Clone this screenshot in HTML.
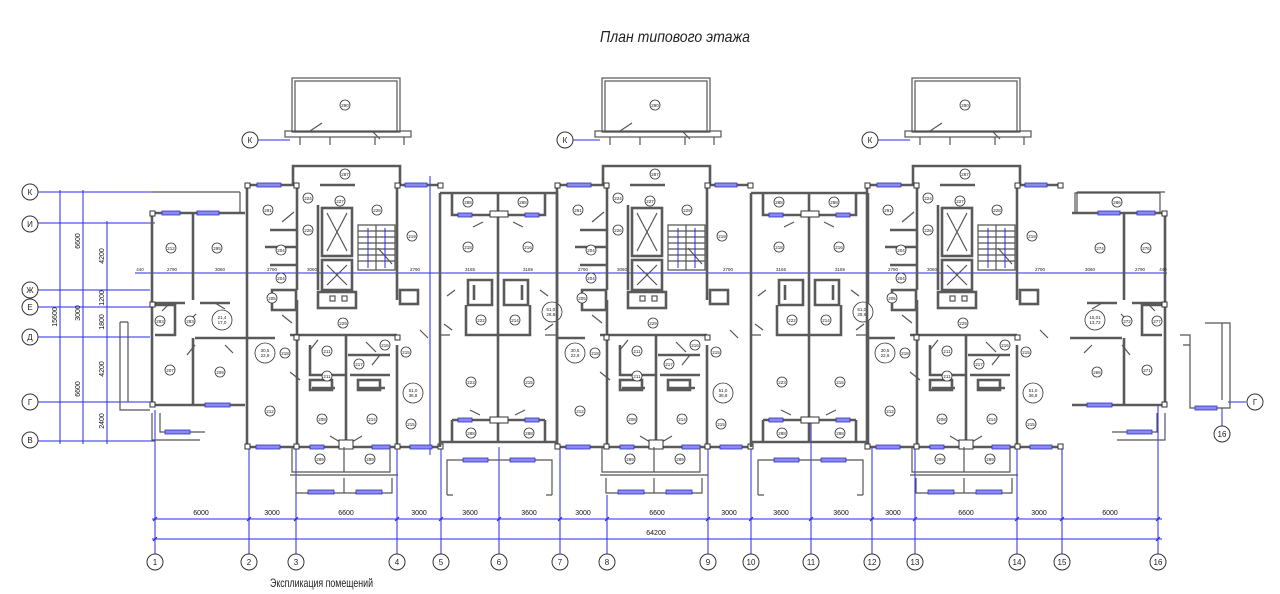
<!DOCTYPE html>
<html><head><meta charset="utf-8">
<style>
html,body{margin:0;padding:0;background:#fff;}
svg{display:block;font-family:"Liberation Sans",sans-serif;}
.w{fill:none;stroke:#5a5a5a;stroke-width:2.6;}
.t{fill:none;stroke:#555;stroke-width:1.2;}
.b{stroke:#2a2aee;stroke-width:1;fill:none;}
.win{fill:#8a8af0;stroke:#3030c0;stroke-width:.8;}
.c circle{fill:#fff;stroke:#333;stroke-width:.8;}
.c text{font-size:4.5px;text-anchor:middle;fill:#222;}
.dt{font-size:7px;fill:#111;text-anchor:middle;}
.ax circle{fill:#fff;stroke:#333;stroke-width:1;}
.ax text{font-size:8px;text-anchor:middle;fill:#222;}
.bd{font-size:4.5px;fill:#222;text-anchor:middle;}
.col{fill:#fff;stroke:#333;stroke-width:1;}
</style></head><body>
<svg width="1280" height="594" viewBox="0 0 1280 594" xmlns="http://www.w3.org/2000/svg">
<defs>
<g id="core">
  <rect x="292" y="78" width="108" height="54" class="t"/>
  <rect x="295" y="81" width="102" height="51" class="t"/>
  <rect x="285" y="131" width="126" height="6" class="t"/>
  <path d="M300 137v8M330 137v8M375 137v8M404 137v8" class="t"/>
  <path d="M310 131l12-8M372 131l8 8" class="t"/>
  <path d="M247 447V185H293V166H400V185H440" class="w"/>
  <path d="M247 447H440" class="w"/>
  <rect x="257" y="183" width="24" height="4" class="win"/>
  <rect x="405" y="183" width="22" height="4" class="win"/>
  <rect x="256" y="445" width="24" height="4" class="win"/>
  <rect x="310" y="445" width="14" height="4" class="win"/>
  <rect x="372" y="445" width="18" height="4" class="win"/>
  <rect x="410" y="445" width="22" height="4" class="win"/>
  <path d="M297 185V290M397 185V300M318 205V290M297 300V447M346 335V447M397 345V447" class="w"/>
  <path d="M290 335H397M247 338H275" class="w"/>
  <path d="M320 185H355M270 230H297M265 247H297M270 265H297" class="w"/>
  <rect x="322" y="208" width="30" height="48" class="w"/>
  <path d="M327 213l20 38M347 213l-20 38" class="t"/>
  <rect x="322" y="260" width="30" height="30" class="w"/>
  <path d="M327 265l20 20M347 265l-20 20" class="t"/>
  <path d="M358 225H395V270H358ZM376 225V270" class="t"/>
  <path d="M358 231H395M358 237H395M358 243H395M358 249H395M358 255H395M358 261H395M378 248l14 16" class="t" stroke-width=".7"/>
  <path d="M368 268V228M385 228V268" class="b"/>
  <rect x="318" y="292" width="38" height="16" class="w"/>
  <rect x="330" y="296" width="5" height="5" class="t"/>
  <rect x="342" y="296" width="5" height="5" class="t"/>
  <rect x="272" y="290" width="24" height="20" class="w"/>
  <rect x="400" y="290" width="18" height="14" class="w"/>
  <path d="M310 345V375H345M348 355H390M350 375H390M312 388H335M358 388H385" class="w"/>
  <rect x="310" y="380" width="22" height="10" class="w"/>
  <rect x="358" y="380" width="22" height="10" class="w"/>
  <path d="M282 222l12-10M292 323l-10-8M318 340l-8 10M366 342l10 10M380 355l-8 10M300 380l-10-8M420 330l8 8M410 350l-8 6M340 442l-10-6M352 442l10-6" class="t"/>
  <rect x="339" y="440" width="14" height="9" class="col"/>
  <path d="M292 447V472H390V447M344 447V472" class="t" stroke-width="2"/>
  <path d="M290 475H398M296 478V493H392V478M344 478V493" class="t"/>
  <rect x="308" y="490" width="26" height="4" class="win"/>
  <rect x="356" y="490" width="26" height="4" class="win"/>
  <rect x="245" y="183" width="5" height="5" class="col"/><rect x="294" y="183" width="5" height="5" class="col"/>
  <rect x="395" y="183" width="5" height="5" class="col"/><rect x="438" y="183" width="5" height="5" class="col"/>
  <rect x="294" y="335" width="5" height="5" class="col"/><rect x="395" y="335" width="5" height="5" class="col"/>
  <rect x="245" y="444" width="5" height="5" class="col"/><rect x="294" y="444" width="5" height="5" class="col"/>
  <rect x="395" y="444" width="5" height="5" class="col"/><rect x="438" y="444" width="5" height="5" class="col"/>
  <g class="c">
   <circle cx="345" cy="105" r="5"/><text x="345" y="107">290</text>
   <circle cx="345" cy="174" r="5"/><text x="345" y="176">287</text>
   <circle cx="268" cy="210" r="5"/><text x="268" y="212">291</text>
   <circle cx="308" cy="198" r="5"/><text x="308" y="200">224</text>
   <circle cx="340" cy="201" r="5"/><text x="340" y="203">227</text>
   <circle cx="377" cy="210" r="5"/><text x="377" y="212">228</text>
   <circle cx="308" cy="230" r="5"/><text x="308" y="232">226</text>
   <circle cx="412" cy="236" r="5"/><text x="412" y="238">219</text>
   <circle cx="281" cy="250" r="5"/><text x="281" y="252">204</text>
   <circle cx="281" cy="278" r="5"/><text x="281" y="280">204</text>
   <circle cx="272" cy="298" r="5"/><text x="272" y="300">205</text>
   <circle cx="343" cy="323" r="5"/><text x="343" y="325">229</text>
   <circle cx="285" cy="353" r="5"/><text x="285" y="355">218</text>
   <circle cx="327" cy="351" r="5"/><text x="327" y="353">211</text>
   <circle cx="327" cy="376" r="5"/><text x="327" y="378">211</text>
   <circle cx="359" cy="364" r="5"/><text x="359" y="366">217</text>
   <circle cx="385" cy="345" r="5"/><text x="385" y="347">216</text>
   <circle cx="406" cy="352" r="5"/><text x="406" y="354">215</text>
   <circle cx="270" cy="411" r="5"/><text x="270" y="413">212</text>
   <circle cx="322" cy="419" r="5"/><text x="322" y="421">208</text>
   <circle cx="372" cy="419" r="5"/><text x="372" y="421">214</text>
   <circle cx="411" cy="424" r="5"/><text x="411" y="426">215</text>
   <circle cx="320" cy="459" r="5"/><text x="320" y="461">289</text>
   <circle cx="370" cy="459" r="5"/><text x="370" y="461">289</text>
   <circle cx="265" cy="353" r="10"/><text x="265" y="352">30,5</text><text x="265" y="357">22,9</text>
   <circle cx="413" cy="393" r="10"/><text x="413" y="392">51,0</text><text x="413" y="397">36,8</text>
  </g>
</g>
<g id="mid">
  <path d="M440 193H557M440 193V447M557 193V447M440 442H557" class="w"/>
  <path d="M452 193V215H545V193M498 193V442M452 420H545M452 420V442M545 420V442" class="w"/>
  <rect x="458" y="213" width="14" height="4" class="win"/><rect x="525" y="213" width="14" height="4" class="win"/>
  <rect x="458" y="418" width="14" height="4" class="win"/><rect x="525" y="418" width="14" height="4" class="win"/>
  <rect x="490" y="211" width="18" height="6" class="col"/><rect x="490" y="417" width="18" height="6" class="col"/>
  <path d="M468 280H492V305H468ZM504 280H528V305H504ZM466 305V335H530V305M474 285V300M522 285V300" class="w"/>
  <path d="M440 335H450M545 335H557M483 222l-10 5M513 222l10 5M480 415l-10-5M515 415l10-5M452 330l-8-6M545 330l8-6M455 290l-8 6M540 290l8 6" class="t"/>
  <path d="M447 495V460H552V495" class="t" stroke-width="2"/>
  <path d="M447 495h6M546 495h6" class="t"/>
  <rect x="463" y="458" width="25" height="4" class="win"/><rect x="510" y="458" width="25" height="4" class="win"/>
  <g class="c">
   <circle cx="468" cy="202" r="5"/><text x="468" y="204">288</text>
   <circle cx="523" cy="202" r="5"/><text x="523" y="204">288</text>
   <circle cx="468" cy="247" r="5"/><text x="468" y="249">218</text>
   <circle cx="528" cy="247" r="5"/><text x="528" y="249">216</text>
   <circle cx="481" cy="320" r="5"/><text x="481" y="322">222</text>
   <circle cx="515" cy="320" r="5"/><text x="515" y="322">214</text>
   <circle cx="471" cy="382" r="5"/><text x="471" y="384">223</text>
   <circle cx="529" cy="382" r="5"/><text x="529" y="384">215</text>
   <circle cx="471" cy="433" r="5"/><text x="471" y="435">288</text>
   <circle cx="529" cy="433" r="5"/><text x="529" y="435">288</text>
   <circle cx="552" cy="312" r="10"/><text x="552" y="311">51,01</text><text x="552" y="316">28,84</text>
  </g>
</g>
<g id="wing">
  <path d="M245 213H152V405H245" class="w"/>
  <path d="M152 192H240M240 192V213" class="t"/>
  <rect x="162" y="211" width="18" height="4" class="win"/><rect x="197" y="211" width="22" height="4" class="win"/>
  <rect x="205" y="403" width="25" height="4" class="win"/>
  <path d="M193 213V300M152 303H185M200 303H230M193 338V405M195 338H247" class="w"/>
  <path d="M155 305H175V335H155" class="w"/>
  <path d="M152 413V440H200M160 413V432H205" class="t"/>
  <rect x="165" y="430" width="25" height="4" class="win"/>
  <path d="M170 303l-8 8M215 303l10 6M188 322l8-8M195 345l-8 10M225 345l8 8" class="t"/>
  <rect x="150" y="211" width="5" height="5" class="col"/><rect x="150" y="402" width="5" height="5" class="col"/>
  <rect x="150" y="302" width="5" height="5" class="col"/>
</g>
</defs>

<g class="b">
  <path d="M38 192H155M38 223H155M38 290H150M38 307H150M38 337H150M38 402H150M38 441H155"/>
  <path d="M258 140H290M573 140H600M878 140H910"/>
  <path d="M60 190V444M83 190V444M107 221V444"/>
  <path d="M56 192h30M56 441h55M80 290h30M80 337h30M104 223h6M104 307h6M104 402h6"/>
  <path d="M135 273H1167"/>
  <path d="M155 410V555M249 447V555M296 447V555M397 447V555M441 447V555M499 447V555M560 447V555M607 495V555M708 447V555M751 447V555M811 420V555M872 447V555M915 447V555M1017 447V555M1062 447V555M1158 405V555"/>
  <path d="M152 519H1162M152 539H1162"/>
  <path d="M430 176V455"/>
  <path d="M1222 408V426M1228 402H1246"/>
</g>
<g fill="#2020e0">
 <path d="M153 521l4-4M247 521l4-4M294 521l4-4M395 521l4-4M439 521l4-4M497 521l4-4M558 521l4-4M605 521l4-4M706 521l4-4M749 521l4-4M809 521l4-4M870 521l4-4M913 521l4-4M1015 521l4-4M1060 521l4-4M1156 521l4-4M153 541l4-4M1156 541l4-4" stroke="#2020e0"/>
</g>

<use href="#wing"/>
<use href="#core"/>
<use href="#mid"/>
<use href="#core" transform="translate(310,0)"/>
<use href="#mid" transform="translate(311,0)"/>
<use href="#core" transform="translate(620,0)"/>
<use href="#wing" transform="translate(1317,0) scale(-1,1)"/>
<path d="M1075 213V193H1160V213" class="t"/>

<g class="c">
 <circle cx="171" cy="248" r="5"/><text x="171" y="250">212</text>
 <circle cx="217" cy="248" r="5"/><text x="217" y="250">295</text>
 <circle cx="160" cy="321" r="5"/><text x="160" y="323">283</text>
 <circle cx="190" cy="321" r="5"/><text x="190" y="323">283</text>
 <circle cx="170" cy="370" r="5"/><text x="170" y="372">207</text>
 <circle cx="220" cy="372" r="5"/><text x="220" y="374">209</text>
 <circle cx="222" cy="320" r="10"/><text x="222" y="319">21,4</text><text x="222" y="324">17,0</text>
 <circle cx="1117" cy="202" r="5"/><text x="1117" y="204">286</text>
 <circle cx="1100" cy="248" r="5"/><text x="1100" y="250">274</text>
 <circle cx="1146" cy="248" r="5"/><text x="1146" y="250">276</text>
 <circle cx="1127" cy="321" r="5"/><text x="1127" y="323">272</text>
 <circle cx="1157" cy="321" r="5"/><text x="1157" y="323">277</text>
 <circle cx="1097" cy="372" r="5"/><text x="1097" y="374">266</text>
 <circle cx="1147" cy="370" r="5"/><text x="1147" y="372">271</text>
 <circle cx="1095" cy="320" r="10"/><text x="1095" y="319">15,01</text><text x="1095" y="324">13,72</text>
</g>

<path d="M120 322V410H150M120 322h8M128 322V402" class="t"/>
<path d="M1205 323H1230V408H1190V335H1180M1222 323V400M1190 345H1183" class="t"/>
<rect x="1195" y="406" width="22" height="4" class="win"/>

<g class="dt">
 <text x="201" y="515">6000</text><text x="272" y="515">3000</text><text x="346" y="515">6600</text>
 <text x="419" y="515">3000</text><text x="470" y="515">3600</text><text x="529" y="515">3600</text>
 <text x="583" y="515">3000</text><text x="657" y="515">6600</text><text x="729" y="515">3000</text>
 <text x="781" y="515">3600</text><text x="841" y="515">3600</text><text x="893" y="515">3000</text>
 <text x="966" y="515">6600</text><text x="1039" y="515">3000</text><text x="1110" y="515">6000</text>
 <text x="656" y="535">64200</text>
 <text transform="translate(57,317) rotate(-90)">15600</text>
 <text transform="translate(80,241) rotate(-90)">6600</text>
 <text transform="translate(80,313) rotate(-90)">3000</text>
 <text transform="translate(80,389) rotate(-90)">6600</text>
 <text transform="translate(104,256) rotate(-90)">4200</text>
 <text transform="translate(104,298) rotate(-90)">1200</text>
 <text transform="translate(104,322) rotate(-90)">1800</text>
 <text transform="translate(104,369) rotate(-90)">4200</text>
 <text transform="translate(104,421) rotate(-90)">2400</text>
</g>
<g class="bd">
 <text x="140" y="271">440</text><text x="172" y="271">2790</text><text x="220" y="271">3060</text><text x="272" y="271">2790</text>
 <text x="312" y="271">3060</text><text x="415" y="271">2790</text><text x="470" y="271">3165</text><text x="528" y="271">3165</text>
 <text x="583" y="271">2790</text><text x="622" y="271">3060</text><text x="728" y="271">2790</text><text x="781" y="271">3165</text>
 <text x="840" y="271">3165</text><text x="893" y="271">2790</text><text x="932" y="271">3060</text><text x="1040" y="271">2790</text>
 <text x="1090" y="271">3060</text><text x="1140" y="271">2790</text><text x="1163" y="271">440</text>
</g>

<g class="ax">
 <circle cx="30" cy="192" r="8"/><text x="30" y="195">К</text>
 <circle cx="30" cy="224" r="8"/><text x="30" y="227">И</text>
 <circle cx="30" cy="290" r="8"/><text x="30" y="293">Ж</text>
 <circle cx="30" cy="307" r="8"/><text x="30" y="310">Е</text>
 <circle cx="30" cy="337" r="8"/><text x="30" y="340">Д</text>
 <circle cx="30" cy="402" r="8"/><text x="30" y="405">Г</text>
 <circle cx="30" cy="440" r="8"/><text x="30" y="443">В</text>
 <circle cx="250" cy="140" r="8"/><text x="250" y="143">К</text>
 <circle cx="565" cy="140" r="8"/><text x="565" y="143">К</text>
 <circle cx="870" cy="140" r="8"/><text x="870" y="143">К</text>
 <circle cx="1255" cy="402" r="8"/><text x="1255" y="405">Г</text>
 <circle cx="1222" cy="434" r="8"/><text x="1222" y="437">16</text>
 <circle cx="155" cy="562" r="8"/><text x="155" y="565">1</text>
 <circle cx="249" cy="562" r="8"/><text x="249" y="565">2</text>
 <circle cx="296" cy="562" r="8"/><text x="296" y="565">3</text>
 <circle cx="397" cy="562" r="8"/><text x="397" y="565">4</text>
 <circle cx="441" cy="562" r="8"/><text x="441" y="565">5</text>
 <circle cx="499" cy="562" r="8"/><text x="499" y="565">6</text>
 <circle cx="560" cy="562" r="8"/><text x="560" y="565">7</text>
 <circle cx="607" cy="562" r="8"/><text x="607" y="565">8</text>
 <circle cx="708" cy="562" r="8"/><text x="708" y="565">9</text>
 <circle cx="751" cy="562" r="8"/><text x="751" y="565">10</text>
 <circle cx="811" cy="562" r="8"/><text x="811" y="565">11</text>
 <circle cx="872" cy="562" r="8"/><text x="872" y="565">12</text>
 <circle cx="915" cy="562" r="8"/><text x="915" y="565">13</text>
 <circle cx="1017" cy="562" r="8"/><text x="1017" y="565">14</text>
 <circle cx="1062" cy="562" r="8"/><text x="1062" y="565">15</text>
 <circle cx="1158" cy="562" r="8"/><text x="1158" y="565">16</text>
</g>

<text x="675" y="42" font-size="16" font-style="italic" text-anchor="middle" textLength="150" lengthAdjust="spacingAndGlyphs" fill="#222">План типового этажа</text>
<text x="270" y="587" font-size="12" textLength="103" lengthAdjust="spacingAndGlyphs" fill="#222">Экспликация помещений</text>
</svg>
</body></html>
